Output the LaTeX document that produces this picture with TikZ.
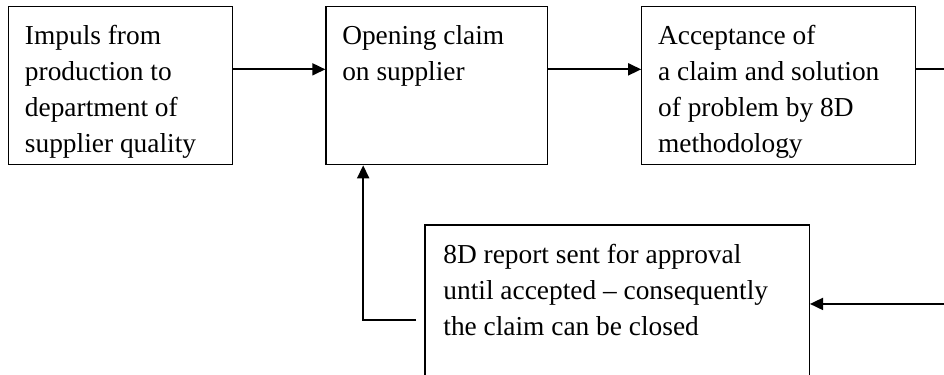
\documentclass[tikz,border=0pt]{standalone}
\usepackage{fontspec}
\setmainfont{Liberation Serif}
\usetikzlibrary{arrows.meta, positioning}

\begin{document}
\begin{tikzpicture}[
    box/.style={draw, rectangle, line width=0.5pt, minimum height=2.13cm, inner sep=0pt},
    boxtext/.style={anchor=north west, align=left, inner xsep=6.3pt, inner ysep=7.1pt, font=\fontsize{10.5}{13.8}\selectfont},
    arrow/.style={line width=0.7pt, -{Triangle[length=5pt, width=4.6pt]}},
    link/.style={line width=0.7pt}
]
% page frame, the lower box runs off the bottom edge
\useasboundingbox (0,0) rectangle (12.725,-5.042);
\clip (0,0) rectangle (12.725,-5.042);
\coordinate (frame_ne) at (12.725,0);

\node[box, minimum width=3.02cm, anchor=north west, label={[boxtext]north west:Impuls from\\production to\\department of\\supplier quality}] (impuls) at (0.108,-0.081) {};
\node[box, minimum width=2.99cm, right=1.24cm of impuls, label={[boxtext]north west:Opening claim\\on supplier}] (opening) {};
\node[box, minimum width=3.69cm, right=1.25cm of opening, label={[boxtext]north west:Acceptance of\\a claim and solution\\of problem by 8D\\methodology}] (acceptance) {};

\node[box, minimum width=5.18cm, below right=0.795cm and 1.335cm of opening.south west, label={[boxtext, inner xsep=7.1pt, inner ysep=7.6pt]north west:8D report sent for approval\\until accepted -- consequently\\the claim can be closed}] (report) {};

\draw[arrow] ([yshift=0.22cm]impuls.east) -- ([yshift=0.22cm]opening.west);
\draw[arrow] ([yshift=0.22cm]opening.east) -- ([yshift=0.22cm]acceptance.west);

% loop back over the right edge
\draw[link] ([yshift=0.22cm]acceptance.east) -- ([yshift=0.22cm]acceptance.east -| frame_ne);
\draw[arrow] (report.east -| frame_ne) -- (report.east);

\draw[arrow] ([xshift=-0.11cm, yshift=-0.216cm]report.west) -| ([xshift=0.51cm]opening.south west);

\end{tikzpicture}
\end{document}
